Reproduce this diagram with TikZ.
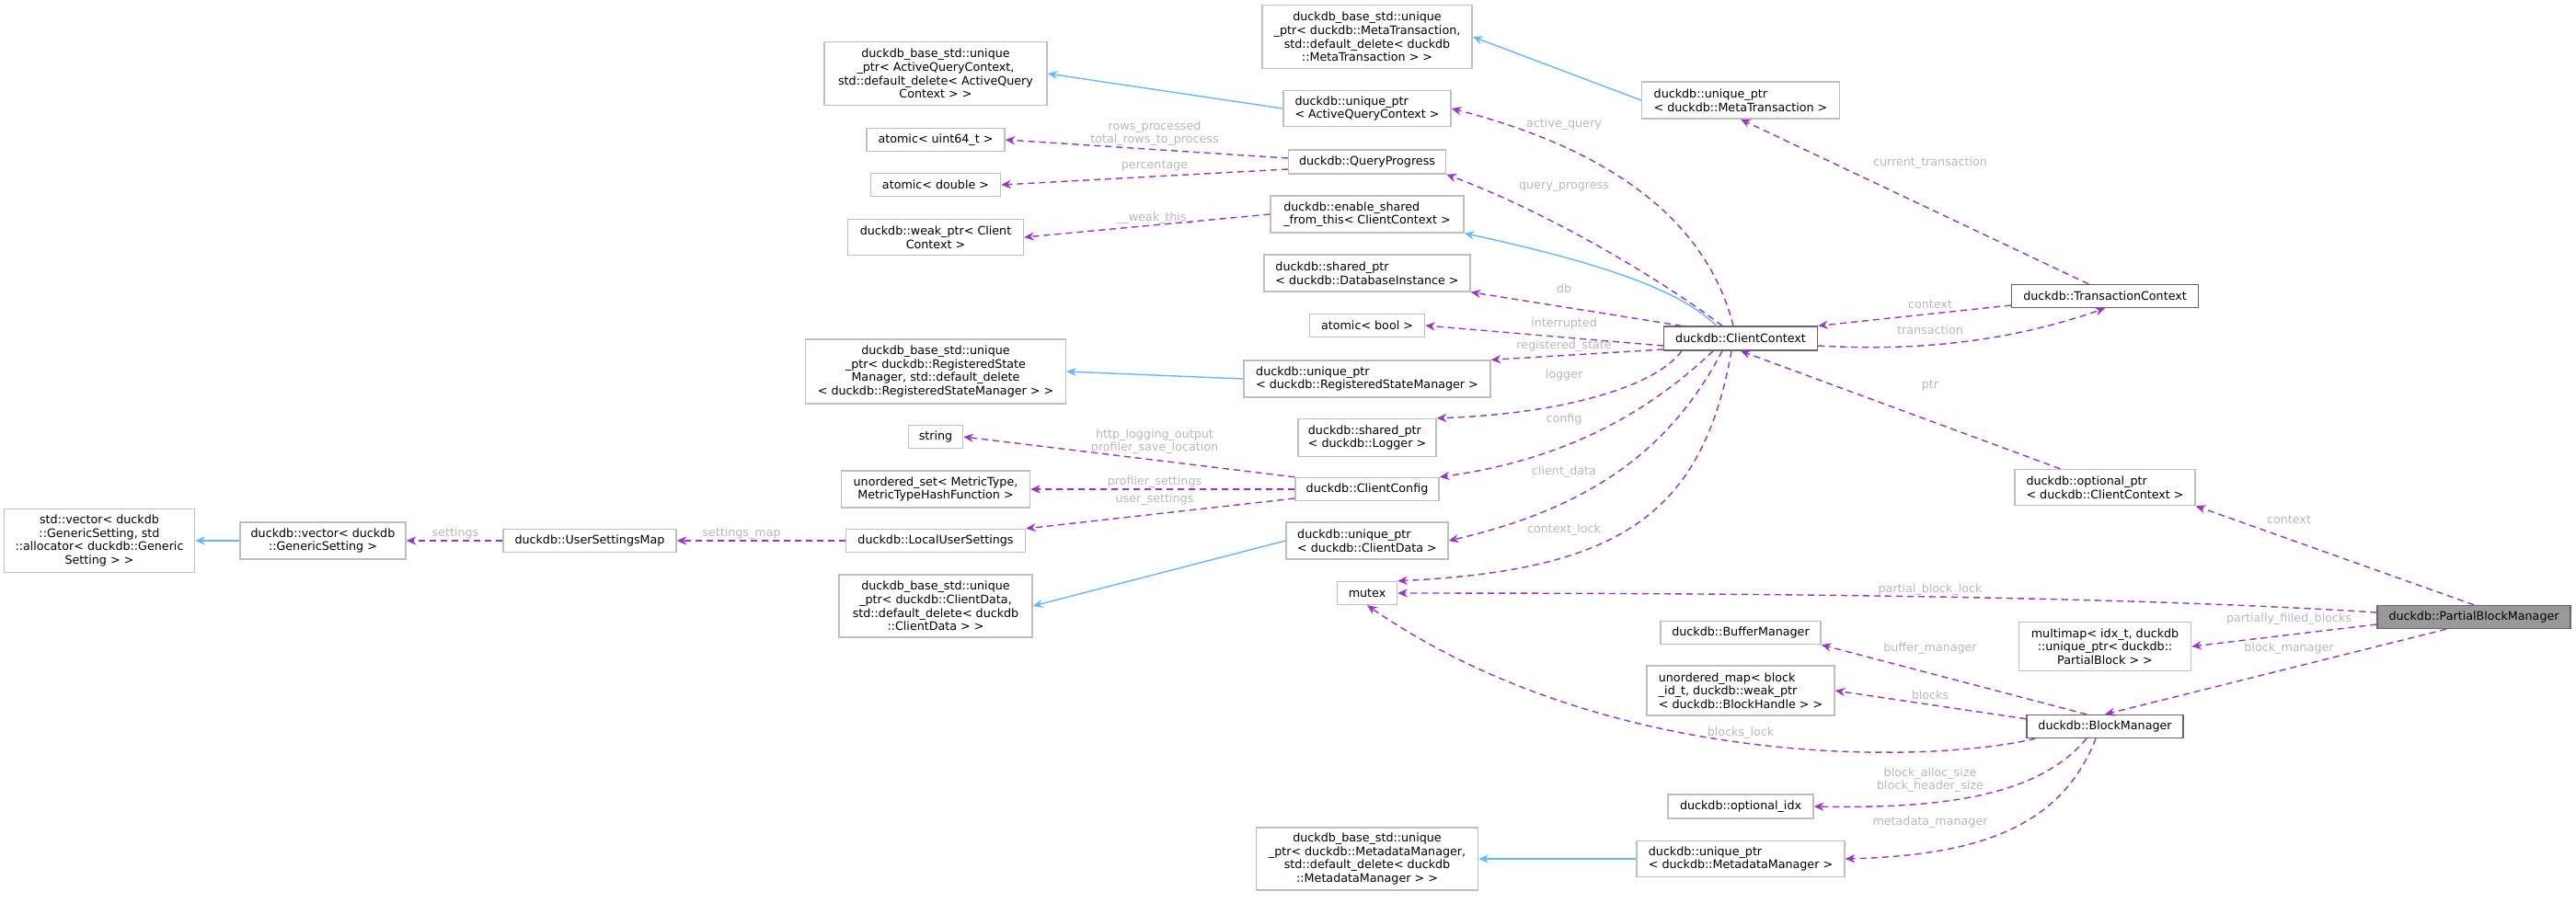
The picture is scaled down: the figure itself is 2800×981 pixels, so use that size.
\documentclass[tikz,border=0pt]{standalone}
\usepackage{fontspec}
\setmainfont{DejaVu Sans}
\usetikzlibrary{arrows.meta}
\definecolor{pur}{HTML}{9A32CD}
\definecolor{blu}{HTML}{63B8FF}
\definecolor{lab}{HTML}{B8B8B8}
\definecolor{brd}{HTML}{BFBFBF}
\begin{document}
\begin{tikzpicture}[x=0.2835pt,y=-0.2835pt,
  font=\fontsize{3.6}{4.15}\selectfont,
  b/.style n args={2}{draw=brd,line width=0.4pt,fill=white,inner sep=0pt,minimum width=#1*0.2835pt,minimum height=#2*0.2835pt,align=center},
  bl/.style n args={2}{b={#1}{#2},align=left},
  dk/.style={draw=black!60},
  mem/.style={draw=pur,dashed,dash pattern=on 2pt off 1.4pt,line width=0.4pt,-{Stealth[length=3pt,width=2.6pt]}},
  inh/.style={draw=blu,line width=0.4pt,-{Stealth[length=3pt,width=2.6pt]}},
  lb/.style={text=lab,font=\fontsize{3.6}{4.15}\selectfont,align=center,inner sep=0pt}]
\path[use as bounding box] (0,0) rectangle (2800,981);
% left column
\node[b={207}{69}] (stdvec) at (108,588) {std::vector< duckdb\\::GenericSetting, std\\::allocator< duckdb::Generic\\Setting > >};
\node[b={180}{40}] (dvec) at (351,588) {duckdb::vector< duckdb\\::GenericSetting >};
\node[b={188}{25}] (usm) at (641,588) {duckdb::UserSettingsMap};
% second column
\node[b={242}{69}] (baq) at (1017,80) {duckdb\_base\_std::unique\\\_ptr< ActiveQueryContext,\\std::default\_delete< ActiveQuery\\Context > >};
\node[b={150}{25}] (au64) at (1017,152) {atomic< uint64\_t >};
\node[b={141}{25}] (adbl) at (1017,201) {atomic< double >};
\node[b={191}{39}] (wptr) at (1017,258) {duckdb::weak\_ptr< Client\\Context >};
\node[b={283}{70}] (brs) at (1017,404) {duckdb\_base\_std::unique\\\_ptr< duckdb::RegisteredState\\Manager, std::default\_delete\\< duckdb::RegisteredStateManager > >};
\node[b={59}{25}] (str) at (1017,475) {string};
\node[b={205}{40}] (uset) at (1017,532) {unordered\_set< MetricType,\\MetricTypeHashFunction >};
\node[b={195}{25}] (lus) at (1017,588) {duckdb::LocalUserSettings};
\node[b={210}{68}] (bcd) at (1017,659) {duckdb\_base\_std::unique\\\_ptr< duckdb::ClientData,\\std::default\_delete< duckdb\\::ClientData > >};
% third column
\node[b={228}{69}] (bmt) at (1486,40) {duckdb\_base\_std::unique\\\_ptr< duckdb::MetaTransaction,\\std::default\_delete< duckdb\\::MetaTransaction > >};
\node[bl={182}{39}] (uaq) at (1486,118) {duckdb::unique\_ptr\\< ActiveQueryContext >};
\node[b={171}{26}] (qp) at (1486,176) {duckdb::QueryProgress};
\node[bl={210}{40}] (esf) at (1486,233) {duckdb::enable\_shared\\\_from\_this< ClientContext >};
\node[bl={224}{40}] (sdb) at (1486,297) {duckdb::shared\_ptr\\< duckdb::DatabaseInstance >};
\node[b={125}{25}] (abool) at (1486,354) {atomic< bool >};
\node[bl={268}{40}] (urs) at (1486,412) {duckdb::unique\_ptr\\< duckdb::RegisteredStateManager >};
\node[bl={150}{41}] (slog) at (1486,476) {duckdb::shared\_ptr\\< duckdb::Logger >};
\node[b={156}{25}] (cfg) at (1486,532) {duckdb::ClientConfig};
\node[bl={176}{40}] (ucd) at (1486,588) {duckdb::unique\_ptr\\< duckdb::ClientData >};
\node[b={65}{25}] (mtx) at (1486,645) {mutex};
\node[b={241}{68}] (bmm) at (1486,934) {duckdb\_base\_std::unique\\\_ptr< duckdb::MetadataManager,\\std::default\_delete< duckdb\\::MetadataManager > >};
% fourth column
\node[bl={215}{40}] (umt) at (1892,109) {duckdb::unique\_ptr\\< duckdb::MetaTransaction >};
\node[b={167}{26},dk] (cc) at (1892,368) {duckdb::ClientContext};
\node[b={174}{25}] (bufm) at (1892,688) {duckdb::BufferManager};
\node[bl={204}{54}] (umap) at (1892,751) {unordered\_map< block\\\_id\_t, duckdb::weak\_ptr\\< duckdb::BlockHandle > >};
\node[b={158}{26}] (oidx) at (1892,877) {duckdb::optional\_idx};
\node[bl={226}{39}] (umm) at (1892,934) {duckdb::unique\_ptr\\< duckdb::MetadataManager >};
% fifth column
\node[b={203}{25},dk] (tc) at (2288,322) {duckdb::TransactionContext};
\node[bl={196}{39}] (optr) at (2288,530) {duckdb::optional\_ptr\\< duckdb::ClientContext >};
\node[b={187}{53}] (mm) at (2288,703) {multimap< idx\_t, duckdb\\::unique\_ptr< duckdb::\\PartialBlock > >};
\node[b={170}{25},dk] (bm) at (2288,790) {duckdb::BlockManager};
\node[b={210}{25},draw=black!60,fill=black!40] (pbm) at (2689,671) {duckdb::PartialBlockManager};
% inheritance
\draw[inh] (dvec.west) -- (stdvec.east);
\draw[inh] (uaq.west) -- (baq.east);
\draw[inh] (umt.west) -- (bmt.east);
\draw[inh] (urs.west) -- (brs.east);
\draw[inh] (ucd.west) -- (bcd.east);
\draw[inh] (umm.west) -- (bmm.east);
\draw[inh] (cc.north west) ++(58,0) coordinate (ccb) (ccb) .. controls (1830,320) and (1760,290) .. (esf.south east);
% members
\draw[mem] (usm.west) -- (dvec.east);
\draw[mem] (lus.west) -- (usm.east);
\draw[mem] (qp.west) ++(0,-4) -- (au64.east);
\draw[mem] (qp.west) ++(0,8) -- (adbl.east);
\draw[mem] (esf.west) -- (wptr.east);
\draw[mem] (cfg.north west) -- (str.east);
\draw[mem] (cfg.west) -- (uset.east);
\draw[mem] (cfg.west) ++(0,10) -- (lus.north east);
\draw[mem] (cc.north) ++(-8,0) .. controls (1860,260) and (1780,170) .. (uaq.east);
\draw[mem] (cc.north) ++(-20,0) .. controls (1800,300) and (1680,230) .. (qp.south east);
\draw[mem] (cc.north west) ++(20,0) -- (sdb.south east);
\draw[mem] (cc.west) ++(0,8) -- (abool.east);
\draw[mem] (cc.west) ++(0,12) -- (urs.north east);
\draw[mem] (cc.south west) ++(20,0) .. controls (1800,420) and (1700,450) .. (slog.north east);
\draw[mem] (cc.south) ++(-30,0) .. controls (1790,450) and (1700,500) .. (cfg.north east);
\draw[mem] (cc.south) ++(-20,0) .. controls (1820,480) and (1740,550) .. (ucd.east);
\draw[mem] (cc.south) ++(-10,0) .. controls (1850,560) and (1760,620) .. (mtx.north east);
\draw[mem] (cc.east) ++(0,8) .. controls (2050,380) and (2160,380) .. (tc.south);
\draw[mem] (tc.west) ++(0,10) -- (cc.north east);
\draw[mem] (tc.north) ++(-18,0) -- (umt.south);
\draw[mem] (optr.north west) ++(50,0) -- (cc.south);
\draw[mem] (pbm.north) -- (optr.south east);
\draw[mem] (pbm.west) ++(0,-5) .. controls (2300,648) and (1900,645) .. (mtx.east);
\draw[mem] (pbm.west) ++(0,8) -- (mm.east);
\draw[mem] (pbm.south) ++(-30,0) -- (bm.north);
\draw[mem] (bm.north) ++(-20,0) -- (bufm.south east);
\draw[mem] (bm.north west) ++(0,5) -- (umap.east);
\draw[mem] (bm.south west) ++(10,0) .. controls (2100,830) and (1750,840) .. (mtx.south);
\draw[mem] (bm.south) ++(-20,0) .. controls (2220,860) and (2130,880) .. (oidx.east);
\draw[mem] (bm.south) ++(-10,0) .. controls (2240,900) and (2150,930) .. (umm.east);
% labels
\node[lb] at (495,580) {settings};
\node[lb] at (806,580) {settings\_map};
\node[lb] at (1255,145) {rows\_processed\\total\_rows\_to\_process};
\node[lb] at (1255,180) {percentage};
\node[lb] at (1255,237) {\_\_weak\_this\_};
\node[lb] at (1255,480) {http\_logging\_output\\profiler\_save\_location};
\node[lb] at (1255,524) {profiler\_settings};
\node[lb] at (1255,543) {user\_settings};
\node[lb] at (1700,135) {active\_query};
\node[lb] at (1700,203) {query\_progress};
\node[lb] at (1700,314) {db};
\node[lb] at (1700,352) {interrupted};
\node[lb] at (1700,376) {registered\_state};
\node[lb] at (1700,408) {logger};
\node[lb] at (1700,456) {config};
\node[lb] at (1700,513) {client\_data};
\node[lb] at (1700,576) {context\_lock};
\node[lb] at (2098,177) {current\_transaction};
\node[lb] at (2098,331) {context};
\node[lb] at (2098,359) {transaction};
\node[lb] at (2098,419) {ptr};
\node[lb] at (2488,565) {context};
\node[lb] at (2098,641) {partial\_block\_lock};
\node[lb] at (2488,673) {partially\_filled\_blocks};
\node[lb] at (2488,705) {block\_manager};
\node[lb] at (2098,705) {buffer\_manager};
\node[lb] at (2098,756) {blocks};
\node[lb] at (1892,797) {blocks\_lock};
\node[lb] at (2098,848) {block\_alloc\_size\\block\_header\_size};
\node[lb] at (2098,894) {metadata\_manager};
\end{tikzpicture}
\end{document}
